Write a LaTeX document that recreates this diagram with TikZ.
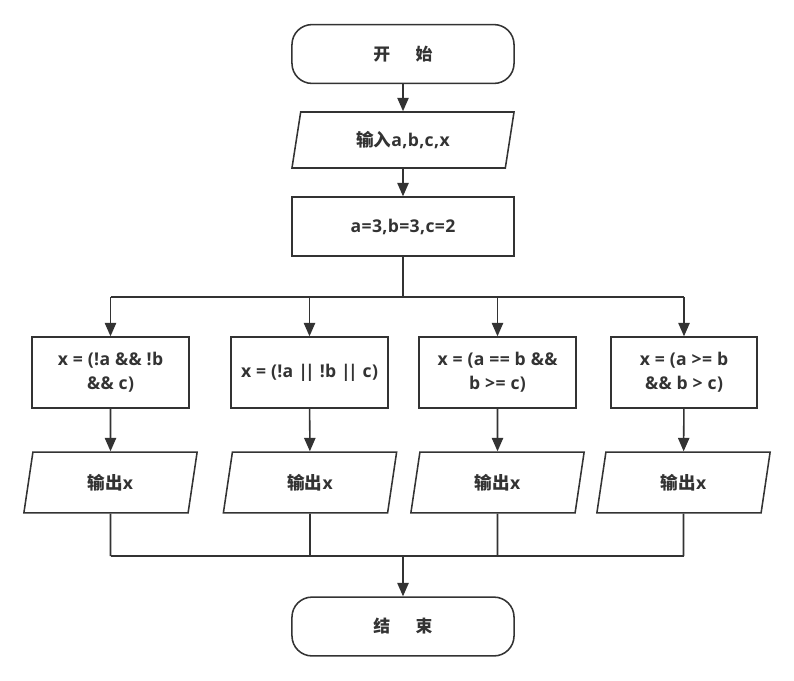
\documentclass[tikz,border=0pt]{standalone}
\usepackage{fontspec}
\setmainfont{Open Sans}[LetterSpace=2]
\newfontfamily\cjk{Noto Sans CJK SC}
\usetikzlibrary{arrows.meta, shapes.geometric}
\definecolor{linegray}{HTML}{333333}
\newcommand{\bars}{|\kern-2pt|}

\begin{document}
\begin{tikzpicture}[
  x=0.025cm, y=-0.025cm,
  every node/.style={font=\fontsize{12.5}{17}\selectfont\bfseries, text=linegray},
  term/.style={draw=linegray, line width=1.1pt, rounded corners=0.5cm,
               minimum width=5.55cm, minimum height=1.47cm},
  io/.style={draw=linegray, line width=1.1pt, trapezium, trapezium stretches body,
             trapezium left angle=71, trapezium right angle=109,
             minimum width=4.33cm, minimum height=1.52cm},
  proc/.style={draw=linegray, line width=1.1pt, minimum width=3.93cm,
               minimum height=1.77cm, align=center},
  arr/.style={-{Triangle[length=9.5pt, width=8pt]}, line width=1.1pt, draw=linegray},
  wire/.style={line width=1.1pt, draw=linegray}
]
  \useasboundingbox (0,0) rectangle (794,680);

  \node[term] (start) at (403,54) {\cjk\fontsize{12}{16}\selectfont\bfseries 开\hspace{1.5em}始};
  \node[io, minimum width=5.55cm, minimum height=1.4cm,
        trapezium left angle=72, trapezium right angle=108] (input) at (403,140) {{\cjk 输入}a,b,c,x};
  \node[proc, minimum width=5.55cm, minimum height=1.47cm] (init) at (403,226.5) {a=3,b=3,c=2};

  \coordinate (split) at (403,297);
  \coordinate (merge) at (403,556);

  \node[proc] (p1) at (110.5,372.5) {x = (!a \&\& !b\\\&\& c)};
  \node[proc] (p2) at (309.5,372.5) {x = (!a \bars{} !b \bars{} c)};
  \node[proc] (p3) at (497.5,372.5) {x = (a == b \&\&\\b >= c)};
  \node[proc, minimum width=3.65cm] (p4) at (684,372.5) {x = (a >= b\\\&\& b > c)};

  \node[io] (o1) at (110.5,482.5) {{\cjk 输出}x};
  \node[io] (o2) at (310,482.5) {{\cjk 输出}x};
  \node[io] (o3) at (497.5,482.5) {{\cjk 输出}x};
  \node[io] (o4) at (683.5,482.5) {{\cjk 输出}x};

  \node[term] (stop) at (403,626.5) {\cjk\fontsize{12}{16}\selectfont\bfseries 结\hspace{1.5em}束};

  \draw[arr] (start) -- (input);
  \draw[arr] (input) -- (init);
  \draw[wire] (init) -- (split);
  \draw[wire] (split -| p1.north) -- (split -| p4.north);
  \foreach \i in {1,2,3,4} {
    \draw[arr] (split -| p\i.north) -- (p\i);
    \draw[arr] (p\i) -- (o\i);
    \draw[wire] (o\i) -- (o\i.south |- merge);
  }
  \draw[wire] (merge -| o1.south) -- (merge -| o4.south);
  \draw[arr] (merge) -- (stop);
\end{tikzpicture}
\end{document}
